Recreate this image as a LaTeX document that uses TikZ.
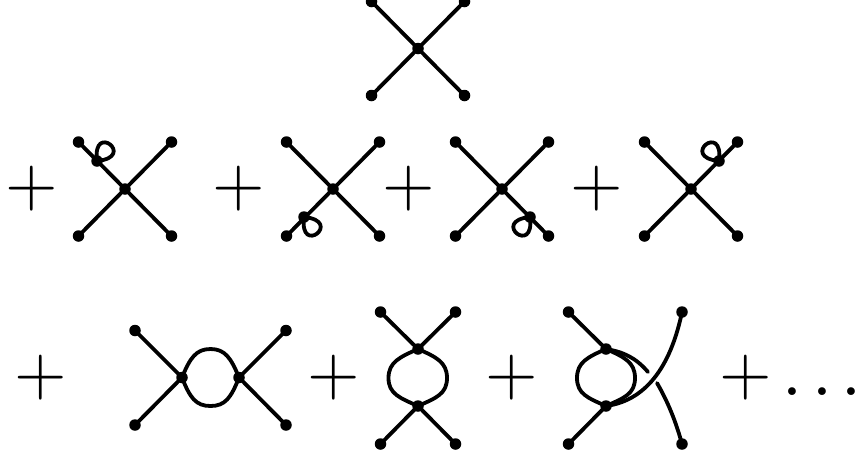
\documentclass[tikz,border=0pt]{standalone}
\tikzset{
  ln/.style={line width=3.8pt,line cap=round,line join=round},
  dotn/.style={circle,fill=black,inner sep=0pt,minimum size=11.5pt},
  vert/.style={circle,fill=black,inner sep=0pt,minimum size=11.5pt},
  sym/.style={inner sep=0pt,scale=6.75},
  ell/.style={inner sep=0pt,scale=5,font=\bfseries}
}
% X graph: name, x, y
\newcommand{\xgraph}[3]{%
  \node[vert] (#1c) at (#2,#3) {};
  \node[dotn] (#1a) at (#2-46.5,#3-47) {};
  \node[dotn] (#1b) at (#2+46.5,#3-47) {};
  \node[dotn] (#1d) at (#2-46.5,#3+47) {};
  \node[dotn] (#1e) at (#2+46.5,#3+47) {};
  \draw[ln] (#1a.center)--(#1e.center) (#1b.center)--(#1d.center);
}
% Tadpole: name, x, y, xsign, ysign
\newcommand{\tadpole}[5]{%
  \node[vert] (#1) at (#2,#3) {};
  \draw[ln] (#1.center) .. controls +(#4*-5,#5*-40) and +(#4*40,#5*-4) .. (#1.center);
}
\begin{document}
\begin{tikzpicture}[x=1pt,y=-1pt]
\useasboundingbox (0,0) rectangle (859,459);
\clip (0,0) rectangle (859,459);
\xgraph{t}{418}{48.5}
\node[sym] (p1) at (32,189) {$+$};
\xgraph{r}{125}{189}
\tadpole{ra}{97}{161}{1}{1}
\node[sym] (p2) at (239,189) {$+$};
\xgraph{s}{333}{189}
\tadpole{sa}{304}{217}{1}{-1}
\node[sym] (p3) at (409,189) {$+$};
\xgraph{u}{502}{189}
\tadpole{ua}{530}{217}{-1}{-1}
\node[sym] (p4) at (597,189) {$+$};
\xgraph{v}{691}{189}
\tadpole{va}{719}{161}{-1}{1}
% third row
\node[sym] (p5) at (41,378) {$+$};
\node[vert] (hl) at (182,377.5) {};
\node[vert] (hr) at (239,377.5) {};
\node[dotn] (ha) at (135,330.5) {};
\node[dotn] (hb) at (135,425) {};
\node[dotn] (hc) at (286,330.5) {};
\node[dotn] (hd) at (286,425) {};
\draw[ln] (ha.center)--(hl.center)--(hb.center) (hc.center)--(hr.center)--(hd.center);
\draw[ln] (hl.center) .. controls (190,358) and (196,349) .. (210.5,349)
  .. controls (225,349) and (231,358) .. (hr.center)
  .. controls (231,398) and (225,406) .. (210.5,406)
  .. controls (196,406) and (190,398) .. (hl.center);
\node[sym] (p6) at (334,378) {$+$};
\node[vert] (vt) at (418,349) {};
\node[vert] (vb) at (418,406) {};
\node[dotn] (va1) at (380.5,312) {};
\node[dotn] (vb1) at (455.5,312) {};
\node[dotn] (vc1) at (380.5,444) {};
\node[dotn] (vd1) at (455.5,444) {};
\draw[ln] (va1.center)--(vt.center)--(vb1.center) (vc1.center)--(vb.center)--(vd1.center);
\draw[ln] (vt.center) .. controls (436,357) and (447,362) .. (447,378)
  .. controls (447,394) and (436,398) .. (vb.center)
  .. controls (400,398) and (388.5,394) .. (388.5,378)
  .. controls (388.5,362) and (400,357) .. (vt.center);
\node[sym] (p7) at (512,378) {$+$};
\node[vert] (wt) at (606,349) {};
\node[vert] (wb) at (606,406) {};
\node[dotn] (wa) at (568.5,312) {};
\node[dotn] (wc) at (568.5,444) {};
\node[dotn] (wr) at (682,312) {};
\node[dotn] (ws) at (682,444) {};
\coordinate (g1) at (648,372);
\coordinate (g2) at (657,383);
\draw[ln] (wa.center)--(wt.center) (wc.center)--(wb.center);
\draw[ln] (wt.center) .. controls (624,357) and (635,362) .. (635,378)
  .. controls (635,394) and (624,398) .. (wb.center)
  .. controls (588,398) and (577,394) .. (577,378)
  .. controls (577,362) and (588,357) .. (wt.center);
\draw[ln] (wb.center) .. controls (650,400) and (672,360) .. (wr.center);
\draw[ln] (wt.center) .. controls (624,352) and (636,358) .. (g1);
\draw[ln] (g2) .. controls (668,402) and (676,422) .. (ws.center);
\node[sym] (p8) at (746,378) {$+$};
\node[ell,anchor=base west] (dd) at (783.8,395) {.\kern.27em.\kern.27em.};
\end{tikzpicture}
\end{document}
